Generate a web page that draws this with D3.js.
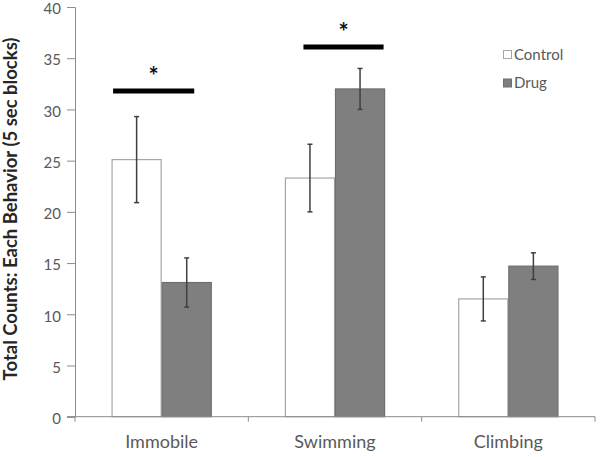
<!DOCTYPE html>
<html>
<head>
<meta charset="utf-8">
<script src="https://cdn.jsdelivr.net/npm/d3@7"></script>
<style>
  html, body { margin: 0; padding: 0; background: #fff; }
  svg { display: block; }
  text { font-family: Lato, "Open Sans", sans-serif; }
</style>
</head>
<body>
<svg id="chart" width="600" height="457"></svg>
<script>
const categories = ["Immobile", "Swimming", "Climbing"];
const seriesNames = ["Control", "Drug"];
const controlMeans = [25.1, 23.3, 11.5];
const controlErrors = [4.2, 3.3, 2.15];
const drugMeans = [13.1, 32.0, 14.7];
const drugErrors = [2.4, 2.0, 1.3];
const yTicks = [0, 5, 10, 15, 20, 25, 30, 35, 40];
const yTitle = "Total Counts: Each Behavior (5 sec blocks)";
// significance markers: category, bracket level (value), span in bar-width units from category centre
const sigCategories = ["Immobile", "Swimming"];
const sigLevels = [31.8, 36.1];
const sigFrom = [-0.97, -0.63];
const sigTo = [0.65, 0.97];

const svg = d3.select("#chart");
const margin = { left: 75, right: 5, top: 7, bottom: 40 };
const W = 600, H = 457;
const plotBottom = 416.7;

const x = d3.scaleBand().domain(categories).range([margin.left, W - margin.right]).paddingInner(0).paddingOuter(0);
const y = d3.scaleLinear().domain([0, 40]).range([plotBottom, margin.top]);
const barW = x.bandwidth() * 0.289;
const xs = d3.scaleBand().domain(seriesNames).range([-barW, barW]);

const colors = { Control: "#ffffff", Drug: "#7f7f7f" };
const strokes = { Control: "#a6a6a6", Drug: "#6e6e6e" };

const data = [];
categories.forEach((c, i) => {
  data.push({ cat: c, s: "Control", v: controlMeans[i], e: controlErrors[i] });
  data.push({ cat: c, s: "Drug", v: drugMeans[i], e: drugErrors[i] });
});

// Y axis
const yAxis = svg.append("g").attr("transform", `translate(${margin.left},0)`)
  .call(d3.axisLeft(y).tickValues(yTicks).tickSize(8).tickPadding(6));
yAxis.select(".domain").attr("stroke", "#8c8c8c");
yAxis.selectAll(".tick line").attr("stroke", "#8c8c8c");
yAxis.selectAll(".tick text").attr("fill", "#595959").attr("font-size", 15)
  .attr("font-family", "Lato, sans-serif").attr("dy", "0.45em");

// Bars
const cx = d => x(d.cat) + x.bandwidth() / 2;
svg.append("g").selectAll("rect").data(data).join("rect")
  .attr("x", d => cx(d) + xs(d.s) + 0.5)
  .attr("y", d => y(d.v))
  .attr("width", xs.bandwidth() - 1)
  .attr("height", d => plotBottom - y(d.v))
  .attr("fill", d => colors[d.s])
  .attr("stroke", d => strokes[d.s])
  .attr("stroke-width", 1.2);

// X axis
const xAxisG = svg.append("g").attr("transform", `translate(0,${plotBottom})`);
xAxisG.append("line").attr("x1", margin.left - 8).attr("x2", W - margin.right)
  .attr("stroke", "#8c8c8c").attr("stroke-width", 1);
const bounds = categories.map(c => x(c)).concat([x(categories[categories.length - 1]) + x.bandwidth()]);
xAxisG.selectAll("line.t").data(bounds).join("line").attr("class", "t")
  .attr("x1", d => d).attr("x2", d => d).attr("y1", 0).attr("y2", 5)
  .attr("stroke", "#8c8c8c");
xAxisG.selectAll("text").data(categories).join("text")
  .attr("x", d => x(d) + x.bandwidth() / 2).attr("y", 31)
  .attr("text-anchor", "middle").attr("fill", "#595959").attr("font-size", 18)
  .text(d => d);

// Error bars
const eg = svg.append("g").attr("stroke", "#404040").attr("stroke-width", 1.5);
const ecx = d => cx(d) + xs(d.s) + xs.bandwidth() / 2;
eg.selectAll("line.v").data(data).join("line").attr("class", "v")
  .attr("x1", ecx).attr("x2", ecx)
  .attr("y1", d => y(d.v + d.e)).attr("y2", d => y(d.v - d.e));
eg.selectAll("line.top").data(data).join("line").attr("class", "top")
  .attr("x1", d => ecx(d) - 2.5).attr("x2", d => ecx(d) + 2.5)
  .attr("y1", d => y(d.v + d.e)).attr("y2", d => y(d.v + d.e));
eg.selectAll("line.bot").data(data).join("line").attr("class", "bot")
  .attr("x1", d => ecx(d) - 2.5).attr("x2", d => ecx(d) + 2.5)
  .attr("y1", d => y(d.v - d.e)).attr("y2", d => y(d.v - d.e));

// Significance markers
const sig = sigCategories.map((c, i) => ({ cat: c, lvl: sigLevels[i], f: sigFrom[i], t: sigTo[i] }));
const sg = svg.append("g");
sg.selectAll("line").data(sig).join("line")
  .attr("x1", d => cx(d) + d.f * barW).attr("x2", d => cx(d) + d.t * barW)
  .attr("y1", d => y(d.lvl)).attr("y2", d => y(d.lvl))
  .attr("stroke", "#000").attr("stroke-width", 5);
sg.selectAll("text").data(sig).join("text")
  .attr("x", d => cx(d) + (d.f + d.t) / 2 * barW)
  .attr("y", d => y(d.lvl) - 6)
  .attr("text-anchor", "middle").attr("font-size", 24).attr("font-weight", "bold")
  .attr("fill", "#111").text("*");

// Legend
const lg = svg.append("g").attr("transform", "translate(503,50)");
seriesNames.forEach((s, i) => {
  const g = lg.append("g").attr("transform", `translate(0,${i * 28.5})`);
  g.append("rect").attr("x", 0.5).attr("y", 0.5).attr("width", 8).attr("height", 8)
    .attr("fill", colors[s]).attr("stroke", strokes[s]);
  g.append("text").attr("x", 11).attr("y", 4.5).attr("dy", "0.35em")
    .attr("font-size", 15).attr("fill", "#595959").text(s);
});

// Y title
svg.append("text")
  .attr("transform", "translate(11,209) rotate(-90)")
  .attr("text-anchor", "middle").attr("dy", "0.35em")
  .attr("font-size", 18.5).attr("font-weight", "bold").attr("fill", "#262626")
  .text(yTitle);
</script>
</body>
</html>
